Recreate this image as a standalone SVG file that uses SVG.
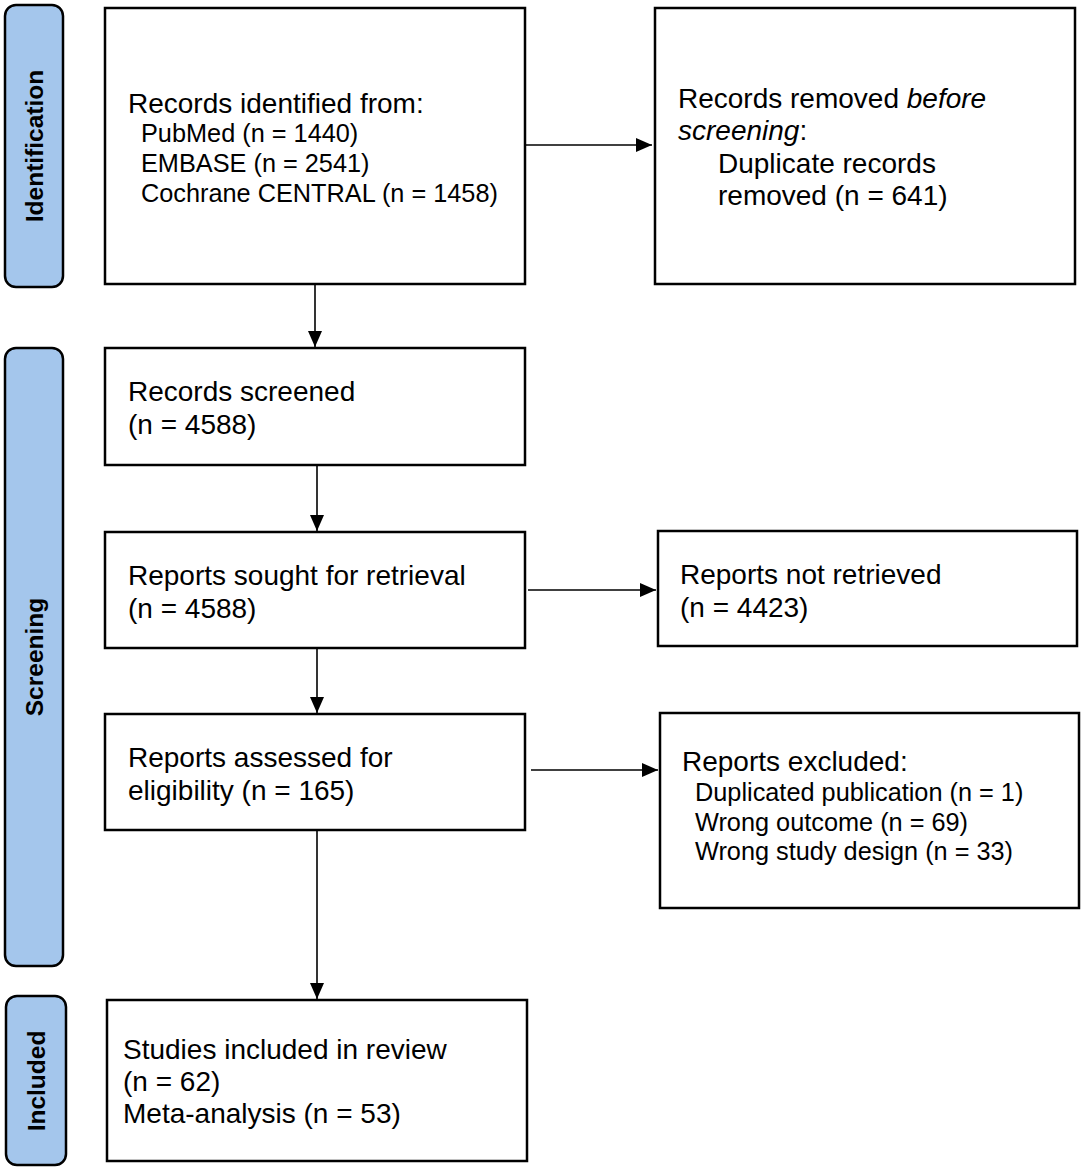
<svg xmlns="http://www.w3.org/2000/svg" width="1084" height="1170" viewBox="0 0 1084 1170">
<defs>
<marker id="ah" viewBox="0 0 16 14" refX="16" refY="7" markerWidth="16" markerHeight="14" markerUnits="userSpaceOnUse" orient="auto">
<path d="M0,0 L16,7 L0,14 Z" fill="#000"/>
</marker>
<style>
.box{fill:#fff;stroke:#000;stroke-width:2.5}
.side{fill:#a4c6ec;stroke:#000;stroke-width:2.5}
.t{font-family:"Liberation Sans",Arial,sans-serif;font-size:28px;fill:#000}
.s{font-family:"Liberation Sans",Arial,sans-serif;font-size:25.3px;fill:#000}
.lbl{font-family:"Liberation Sans",Arial,sans-serif;font-size:24.5px;font-weight:bold;fill:#000;text-anchor:middle}
.c{stroke:#000;stroke-width:1.6;fill:none;marker-end:url(#ah)}
</style>
</defs>
<rect width="1084" height="1170" fill="#fff"/>
<g id="side-identification"><rect class="side" x="5" y="5" width="58" height="282" rx="11"/><text class="lbl" transform="translate(43,146) rotate(-90)">Identification</text></g>
<g id="side-screening"><rect class="side" x="5" y="348" width="58" height="618" rx="11"/><text class="lbl" transform="translate(43,657) rotate(-90)">Screening</text></g>
<g id="side-included"><rect class="side" x="6" y="996" width="60" height="169" rx="11"/><text class="lbl" transform="translate(45,1081) rotate(-90)">Included</text></g>

<g id="identified"><rect class="box" x="105" y="8" width="420" height="276"/>
<text class="t" x="128" y="113" font-size="28.5">Records identified from:</text>
<text class="s" x="141" y="142">PubMed (n = 1440)</text>
<text class="s" x="141" y="172">EMBASE (n = 2541)</text>
<text class="s" x="141" y="202">Cochrane CENTRAL (n = 1458)</text></g>

<g id="removed"><rect class="box" x="655" y="8" width="420" height="276"/>
<text class="t" x="678" y="108">Records removed <tspan font-style="italic">before</tspan></text>
<text class="t" x="678" y="140"><tspan font-style="italic">screening</tspan>:</text>
<text class="t" x="718" y="173">Duplicate records</text>
<text class="t" x="718" y="205">removed (n = 641)</text></g>

<g id="screened"><rect class="box" x="105" y="348" width="420" height="117"/>
<text class="t" x="128" y="401">Records screened</text>
<text class="t" x="128" y="434">(n = 4588)</text></g>

<g id="sought"><rect class="box" x="105" y="532" width="420" height="116"/>
<text class="t" x="128" y="585">Reports sought for retrieval</text>
<text class="t" x="128" y="618">(n = 4588)</text></g>

<g id="notretrieved"><rect class="box" x="658" y="531" width="419" height="115"/>
<text class="t" x="680" y="584">Reports not retrieved</text>
<text class="t" x="680" y="617">(n = 4423)</text></g>

<g id="assessed"><rect class="box" x="105" y="714" width="420" height="116"/>
<text class="t" x="128" y="767">Reports assessed for</text>
<text class="t" x="128" y="800">eligibility (n = 165)</text></g>

<g id="excluded"><rect class="box" x="660" y="713" width="419" height="195"/>
<text class="t" x="682" y="771">Reports excluded:</text>
<text class="s" x="695" y="801">Duplicated publication (n = 1)</text>
<text class="s" x="695" y="831">Wrong outcome (n = 69)</text>
<text class="s" x="695" y="860">Wrong study design (n = 33)</text></g>

<g id="included"><rect class="box" x="107" y="1000" width="420" height="161"/>
<text class="t" x="123" y="1059">Studies included in review</text>
<text class="t" x="123" y="1091">(n = 62)</text>
<text class="t" x="123" y="1123">Meta-analysis (n = 53)</text></g>

<g id="connectors">
<line class="c" x1="525" y1="145" x2="652" y2="145"/>
<line class="c" x1="315" y1="284" x2="315" y2="347"/>
<line class="c" x1="317" y1="465" x2="317" y2="531"/>
<line class="c" x1="528" y1="590" x2="656" y2="590"/>
<line class="c" x1="317" y1="648" x2="317" y2="713"/>
<line class="c" x1="531" y1="770" x2="658" y2="770"/>
<line class="c" x1="317" y1="830" x2="317" y2="999"/>
</g>
</svg>
